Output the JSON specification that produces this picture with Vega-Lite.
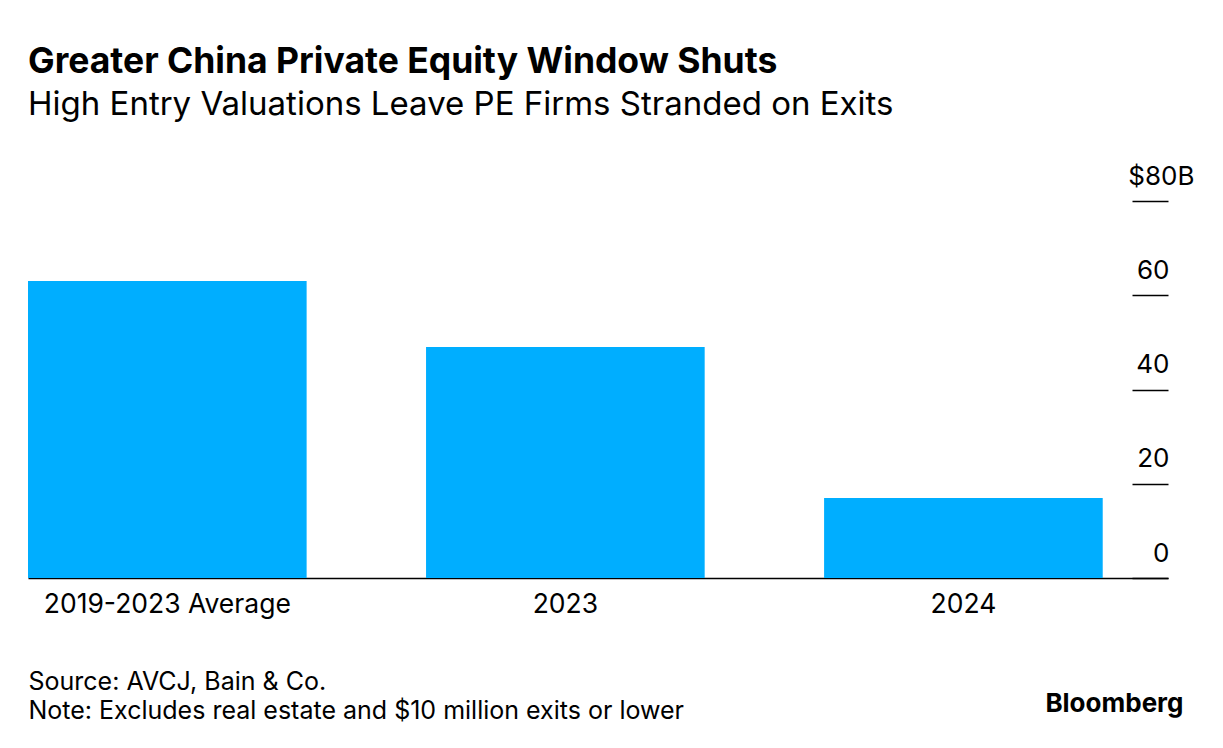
{
  "$schema": "https://vega.github.io/schema/vega-lite/v6.json",
  "width": 1140,
  "height": 377,
  "autosize": "none",
  "padding": {"left": 28, "top": 201, "right": 55, "bottom": 170},
  "background": "white",
  "config": {"view": {"stroke": null}, "font": "Inter"},
  "title": {
    "text": "Greater China Private Equity Window Shuts",
    "subtitle": "High Entry Valuations Leave PE Firms Stranded on Exits",
    "anchor": "start",
    "frame": "group",
    "font": "Inter",
    "fontSize": 35.5,
    "fontWeight": "bold",
    "color": "#000000",
    "subtitleFont": "Inter",
    "subtitleFontSize": 33,
    "subtitleColor": "#000000",
    "subtitlePadding": 9,
    "offset": 41
  },
  "data": {
    "values": [
      {"period": "2019-2023 Average", "exits": 63},
      {"period": "2023", "exits": 49},
      {"period": "2024", "exits": 17}
    ]
  },
  "mark": {"type": "bar", "color": "#00AEFF"},
  "encoding": {
    "x": {
      "field": "period",
      "type": "nominal",
      "sort": null,
      "scale": {"paddingInner": 0.3, "paddingOuter": 0.082, "align": 0},
      "axis": {
        "title": ["Source: AVCJ, Bain & Co.", "Note: Excludes real estate and $10 million exits or lower"],
        "titleFont": "Inter",
        "titleFontSize": 25,
        "titleFontWeight": "normal",
        "titleColor": "#000000",
        "titleAnchor": "start",
        "titleAlign": "left",
        "titleBaseline": "alphabetic",
        "titleLineHeight": 29,
        "titleX": 0,
        "titleY": 111,
        "labelAngle": 0,
        "labelFont": "Inter",
        "labelFontSize": 26.5,
        "labelColor": "#000000",
        "labelPadding": 13,
        "labelLimit": 400,
        "ticks": false,
        "domainColor": "#000000",
        "domainWidth": 1.5
      }
    },
    "y": {
      "field": "exits",
      "type": "quantitative",
      "scale": {"domain": [0, 80]},
      "axis": {
        "orient": "right",
        "offset": -36,
        "values": [0, 20, 40, 60, 80],
        "labelExpr": "datum.value === 80 ? '$80B' : datum.label",
        "domain": false,
        "grid": false,
        "ticks": true,
        "tickSize": 36,
        "tickColor": "#000000",
        "tickWidth": 1.5,
        "labelFont": "Inter",
        "labelFontSize": 26,
        "labelColor": "#000000",
        "labelAlign": "right",
        "labelBaseline": "alphabetic",
        "labelPadding": {"condition": {"test": "datum.value === 80", "value": 26}, "value": 1},
        "labelOffset": -17,
        "title": "Bloomberg",
        "titleFont": "Inter",
        "titleFontSize": 26,
        "titleFontWeight": "bold",
        "titleColor": "#000000",
        "titleAngle": 0,
        "titleAlign": "right",
        "titleBaseline": "alphabetic",
        "titleX": 51,
        "titleY": 510
      }
    }
  }
}
